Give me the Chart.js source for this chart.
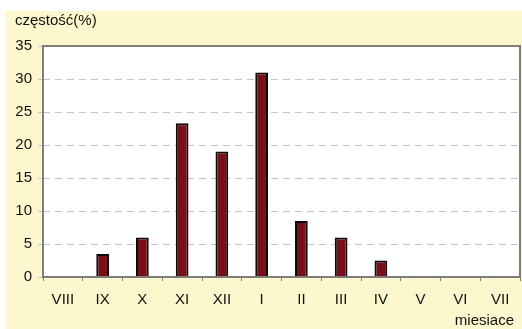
<!DOCTYPE html>
<html>
<head>
<meta charset="utf-8">
<script src="https://cdn.jsdelivr.net/npm/chart.js@4/dist/chart.umd.min.js"></script>
<style>
  html, body { margin: 0; padding: 0; background: #ffffff; }
  #wrap { width: 522px; height: 329px; }
</style>
</head>
<body>
<div id="wrap"><canvas id="c" width="522" height="329"></canvas></div>
<script>
// Monthly frequency (%) from August through July
const months = ['VIII', 'IX', 'X', 'XI', 'XII', 'I', 'II', 'III', 'IV', 'V', 'VI', 'VII'];
const frequency = [0, 3.5, 6, 23.3, 19, 31, 8.5, 6, 2.5, 0, 0, 0];
const yTicks = [0, 5, 10, 15, 20, 25, 30, 35];

const yAxisTitle = 'częstość(%)';
const xAxisTitle = 'miesiace';

const FONT = "'Liberation Sans', Arial, Helvetica, sans-serif";
const TEXT = '#111111';
const PANEL = '#fcf7cd';
const AXIS = '#7d7d7d';
const GRID = '#c4c4c4';

// Backdrop panel, white plot box with frame, and the two axis captions
const decor = {
  id: 'decor',
  beforeDraw(chart) {
    const { ctx, chartArea: a } = chart;
    ctx.save();
    ctx.fillStyle = '#ffffff';
    ctx.fillRect(0, 0, chart.width, chart.height);
    ctx.fillStyle = PANEL;
    ctx.fillRect(6, 11, chart.width - 6, chart.height - 11);
    ctx.fillStyle = '#ffffff';
    ctx.fillRect(a.left, a.top, a.right - a.left, a.bottom - a.top);
    ctx.restore();
  },
  afterDraw(chart) {
    const { ctx, chartArea: a } = chart;
    ctx.save();
    ctx.strokeStyle = AXIS;
    ctx.lineWidth = 2;
    ctx.strokeRect(a.left, a.top, a.right - a.left, a.bottom - a.top);
    ctx.fillStyle = TEXT;
    ctx.font = '15px ' + FONT;
    ctx.textBaseline = 'middle';
    ctx.textAlign = 'left';
    ctx.fillText(yAxisTitle, 15, 21);
    ctx.textAlign = 'right';
    ctx.fillText(xAxisTitle, 514, 321);
    ctx.restore();
  }
};

new Chart(document.getElementById('c'), {
  type: 'bar',
  data: {
    labels: months,
    datasets: [{
      data: frequency,
      backgroundColor: '#78101a',
      borderColor: '#0a0a0a',
      borderWidth: 2,
      borderSkipped: 'bottom',
      barPercentage: 0.32,
      categoryPercentage: 1.0
    }]
  },
  options: {
    responsive: false,
    animation: false,
    devicePixelRatio: 1,
    layout: { padding: { top: 46, right: 2, left: 0, bottom: 0 } },
    plugins: {
      legend: { display: false },
      tooltip: { enabled: false }
    },
    scales: {
      x: {
        offset: true,
        afterFit(scale) { scale.height = 52; },
        grid: {
          offset: true,
          drawOnChartArea: false,
          drawTicks: true,
          tickLength: 4,
          tickColor: AXIS,
          tickWidth: 1
        },
        border: { display: false },
        ticks: {
          color: TEXT,
          font: { family: FONT, size: 15 },
          padding: 10,
          maxRotation: 0,
          autoSkip: false
        }
      },
      y: {
        min: 0,
        max: 35,
        afterFit(scale) { scale.width = 43; },
        afterBuildTicks(scale) { scale.ticks = yTicks.map(v => ({ value: v })); },
        grid: {
          color: GRID,
          lineWidth: 1,
          drawTicks: true,
          tickLength: 5,
          tickColor: GRID
        },
        // dashed horizontal grid lines
        border: { display: false, dash: [7, 5] },
        ticks: {
          color: TEXT,
          font: { family: FONT, size: 15 },
          padding: 6
        }
      }
    }
  },
  plugins: [decor]
});
</script>
</body>
</html>
